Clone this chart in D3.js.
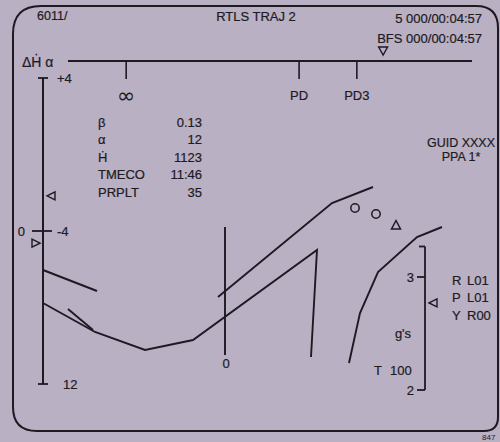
<!DOCTYPE html>
<html>
<head>
<meta charset="utf-8">
<script src="https://cdn.jsdelivr.net/npm/d3@7"></script>
<style>
  html, body { margin: 0; padding: 0; background: #b9b0c3; }
  svg { display: block; }
  text { font-family: "Liberation Sans", Arial, Helvetica, sans-serif; fill: #1d1a22; stroke: #1d1a22; stroke-width: 0.2px; }
</style>
</head>
<body>
<svg id="chart" width="500" height="442"></svg>
<script>
// Header strings
const headerLeft = "6011/";
const headerTitle = "RTLS TRAJ 2";
const headerClock = "5 000/00:04:57";
const bfsClock = "BFS 000/00:04:57";

// Top (pitch/attitude) strip
const topTickLabels = ["\u221E", "PD", "PD3"];
const topTickValues = [14.4, 57.2, 71.5];
const bfsMarkerValue = 78;

// Left ΔḢ / α strip
const leftTickLabels = ["+4", "-4", "12"];
const leftZeroLabel = "0";
const alphaMarkerValue = 0.77;
const dHdotMarkerValue = 1.08;

// Parameter read-outs
const paramLabels = ["\u03B2", "\u03B1", "\u1E22", "TMECO", "PRPLT"];
const paramValues = ["0.13", "12", "1123", "11:46", "35"];

const guidLines = ["GUID XXXX", "PPA 1*"];

// g's strip
const gTickValues = [2, 3];
const gTopValue = 3.27;
const gMarkerValue = 2.77;
const attLabels = ["R", "P", "Y"];
const attValues = ["L01", "L01", "R00"];
const throttleLabel = "T";
const throttleValue = "100";
const gUnitLabel = "g's";

// Trajectory traces: [range, energy]
const traceA = [[0, 60], [13.5, 49.5]];
const traceB = [[0, 43.5], [13, 29], [25.5, 20], [37.5, 25], [68.5, 70], [67, 16.5]];
const traceC = [[6.25, 40.5], [12.5, 30]];
const traceD = [[43.75, 46.5], [72.25, 93.5], [82.5, 101.5]];
const traceE = [[99.75, 81.5], [93.5, 76.5], [83.75, 59], [79.25, 38.5], [76.5, 13.5]];
const predictorPoints = [[78, 91], [83.25, 88]];
const targetPoint = [88.25, 82.5];
const zeroRange = 45.5;
const zeroSpan = [17.5, 81.5];
const zeroLabelAt = 13.5;

const INK = "#1d1a22";
const svg = d3.select("#chart");

// ---- Frame ----
(function frame() {
  const L = 13, R = 498, T = 6, B = 431;
  const rTL = 28, rTR = 22, rBL = 24, rBR = 14;
  const p = d3.path();
  p.moveTo(L + rTL, T);
  p.lineTo(R - rTR, T);
  p.quadraticCurveTo(R, T, R, T + rTR);
  p.lineTo(R, B - rBR);
  p.quadraticCurveTo(R, B, R - rBR, B);
  p.lineTo(L + rBL, B);
  p.quadraticCurveTo(L, B, L, B - rBL);
  p.lineTo(L, T + rTL);
  p.quadraticCurveTo(L, T, L + rTL, T);
  svg.append("path").attr("d", p.toString())
    .attr("fill", "none").attr("stroke", INK).attr("stroke-width", 2);
})();

function txt(x, y, s, size, anchor) {
  return svg.append("text").attr("x", x).attr("y", y).attr("dy", "0.35em")
    .attr("font-size", size).attr("text-anchor", anchor || "start").text(s);
}

// ---- Header ----
txt(37, 16, headerLeft, 12.5);
txt(256, 16, headerTitle, 13, "middle");
txt(482, 18, headerClock, 13, "end");
txt(482, 38, bfsClock, 13, "end");

// ---- Top strip ----
const xTop = d3.scaleLinear().domain([0, 100]).range([68, 472]);
const stripY = 61;
txt(22, stripY + 1, "\u0394\u1E22 \u03B1", 14);
svg.append("line").attr("x1", xTop(0)).attr("x2", xTop(100))
  .attr("y1", stripY).attr("y2", stripY).attr("stroke", INK).attr("stroke-width", 2);
const topG = svg.append("g");
topG.selectAll("line").data(topTickValues).join("line")
  .attr("x1", d => xTop(d)).attr("x2", d => xTop(d))
  .attr("y1", stripY).attr("y2", stripY + 18)
  .attr("stroke", INK).attr("stroke-width", 1.6);
topG.selectAll("text").data(topTickLabels).join("text")
  .attr("x", (d, i) => xTop(topTickValues[i]))
  .attr("y", (d, i) => i === 0 ? 95 : 95)
  .attr("dy", "0.35em").attr("text-anchor", "middle")
  .attr("font-size", (d, i) => i === 0 ? 22 : 13)
  .style("font-family", (d, i) => i === 0 ? "'DejaVu Sans', sans-serif" : null)
  .style("stroke-width", (d, i) => i === 0 ? "0px" : null)
  .text(d => d);
// BFS marker (inverted triangle)
{
  const cx = xTop(bfsMarkerValue), cy = 51;
  svg.append("path")
    .attr("d", `M${cx - 4.5},${cy - 4} L${cx + 4.5},${cy - 4} L${cx},${cy + 4} Z`)
    .attr("fill", "none").attr("stroke", INK).attr("stroke-width", 1.4);
}

// ---- Left strip ----
const yLeft = d3.scaleLinear().domain([0, 2]).range([78, 384]);
const leftX = 43;
svg.append("line").attr("x1", leftX).attr("x2", leftX)
  .attr("y1", yLeft(0)).attr("y2", yLeft(2)).attr("stroke", INK).attr("stroke-width", 2);
leftTickLabels.forEach((lab, i) => {
  const y = yLeft(i);
  const half = i === 1 ? [11, 9] : [5, 5];
  svg.append("line").attr("x1", leftX - half[0]).attr("x2", leftX + half[1])
    .attr("y1", y).attr("y2", y).attr("stroke", INK).attr("stroke-width", 1.8);
  txt(i === 2 ? 63 : 57, y, lab, 13);
});
txt(25, yLeft(1), leftZeroLabel, 13, "end");
// α marker (points left, right of strip)
{
  const y = yLeft(alphaMarkerValue), x = leftX + 4;
  svg.append("path").attr("d", `M${x},${y} L${x + 8},${y - 4} L${x + 8},${y + 4} Z`)
    .attr("fill", "none").attr("stroke", INK).attr("stroke-width", 1.4);
}
// ΔḢ marker (points right, left of strip)
{
  const y = yLeft(dHdotMarkerValue), x = leftX - 3;
  svg.append("path").attr("d", `M${x},${y} L${x - 8},${y - 4} L${x - 8},${y + 4} Z`)
    .attr("fill", "none").attr("stroke", INK).attr("stroke-width", 1.4);
}

// ---- Parameter block ----
const yParam = d3.scaleLinear().domain([0, 4]).range([122, 192]);
paramLabels.forEach((lab, i) => {
  txt(98, yParam(i), lab, 13);
  txt(202, yParam(i), paramValues[i], 13, "end");
});

// ---- GUID ----
guidLines.forEach((s, i) => txt(461, 143 + i * 14, s, 12.5, "middle"));

// ---- Trajectory plot ----
const xTraj = d3.scaleLinear().domain([0, 100]).range([43, 443]);
const yTraj = d3.scaleLinear().domain([0, 100]).range([390, 190]);
const line = d3.line().x(d => xTraj(d[0])).y(d => yTraj(d[1]));
const trajG = svg.append("g").attr("fill", "none").attr("stroke", INK)
  .attr("stroke-width", 1.9).attr("stroke-linejoin", "miter");
[traceA, traceB, traceC, traceD, traceE].forEach(t => trajG.append("path").attr("d", line(t)));
trajG.append("line")
  .attr("x1", xTraj(zeroRange)).attr("x2", xTraj(zeroRange))
  .attr("y1", yTraj(zeroSpan[0])).attr("y2", yTraj(zeroSpan[1]));
txt(xTraj(zeroRange) + 1, yTraj(zeroLabelAt), "0", 13, "middle");

svg.selectAll("circle.pred").data(predictorPoints).join("circle").attr("class", "pred")
  .attr("cx", d => xTraj(d[0])).attr("cy", d => yTraj(d[1])).attr("r", 4.2)
  .attr("fill", "none").attr("stroke", INK).attr("stroke-width", 1.5);
{
  const cx = xTraj(targetPoint[0]), cy = yTraj(targetPoint[1]);
  svg.append("path").attr("d", `M${cx},${cy - 4.5} L${cx + 4.5},${cy + 4} L${cx - 4.5},${cy + 4} Z`)
    .attr("fill", "none").attr("stroke", INK).attr("stroke-width", 1.5);
}

// ---- g's strip ----
const yG = d3.scaleLinear().domain([2, 3]).range([390, 277]);
const gX = 425;
svg.append("line").attr("x1", gX).attr("x2", gX)
  .attr("y1", yG(gTopValue)).attr("y2", yG(2)).attr("stroke", INK).attr("stroke-width", 1.8);
svg.append("line").attr("x1", gX - 6).attr("x2", gX)
  .attr("y1", yG(gTopValue)).attr("y2", yG(gTopValue)).attr("stroke", INK).attr("stroke-width", 1.8);
gTickValues.forEach(v => {
  svg.append("line").attr("x1", gX - 8).attr("x2", gX)
    .attr("y1", yG(v)).attr("y2", yG(v)).attr("stroke", INK).attr("stroke-width", 1.8);
  txt(gX - 11, yG(v), String(v), 13, "end");
});
{
  const y = yG(gMarkerValue), x = gX + 4;
  svg.append("path").attr("d", `M${x},${y} L${x + 8},${y - 4} L${x + 8},${y + 4} Z`)
    .attr("fill", "none").attr("stroke", INK).attr("stroke-width", 1.4);
}
attLabels.forEach((lab, i) => {
  const y = 280 + i * 17.5;
  txt(452, y, lab, 13);
  txt(467, y, attValues[i], 13);
});
txt(403, 333, gUnitLabel, 13, "middle");
txt(374, 370, throttleLabel, 13);
txt(390, 370, throttleValue, 13);

// Figure number
txt(482, 437, "847", 8).style("stroke-width", "0px");
</script>
</body>
</html>
